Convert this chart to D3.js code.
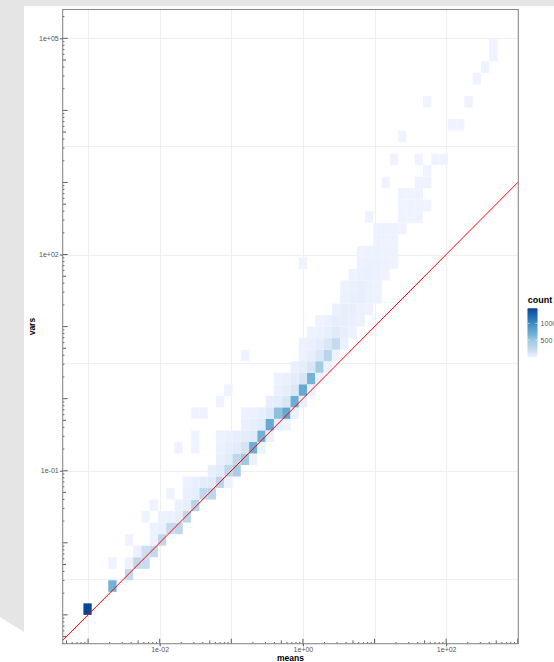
<!DOCTYPE html>
<html>
<head>
<meta charset="utf-8">
<script src="https://cdn.jsdelivr.net/npm/d3@7"></script>
<style>
html, body { margin: 0; padding: 0; background: #fff; overflow: hidden; }
svg { display: block; font-family: "Liberation Sans", Arial, sans-serif; }
</style>
</head>
<body>
<svg id="chart" width="554" height="662"></svg>
<script>
// bins of the 2d histogram, in log10 units
var xBinStart = -3.065, xBinWidth = 0.11566;
var yBinStart = -3.0, yBinWidth = 0.16;

var xBreaks = [1e-2, 1e0, 1e2];
var xTickLabels = ["1e-02", "1e+00", "1e+02"];
var yBreaks = [1e-1, 1e2, 1e5];
var yTickLabels = ["1e-01", "1e+02", "1e+05"];
var legendBreaks = [500, 1000];
var legendLabels = ["500", "1000"];
var blues = ["#eff3ff", "#c6dbef", "#9ecae1", "#6baed6", "#4292c6", "#2171b5", "#084594"];

// [x bin, y bin, count]
var cells = [
  [0,0,1450],
  [3,2,690],
  [5,3,250],
  [3,4,4],[5,4,6],[6,4,270],[7,4,230],
  [6,5,9],[7,5,200],[8,5,260],
  [5,6,3],[8,6,14],[9,6,280],
  [8,7,12],[9,7,30],[10,7,250],[11,7,290],
  [7,8,3],[9,8,10],[10,8,25],[11,8,40],[12,8,300],
  [8,9,4],[11,9,20],[12,9,45],[13,9,330],
  [10,10,5],[12,10,30],[13,10,50],[14,10,280],[15,10,300],
  [12,11,15],[13,11,35],[14,11,60],[15,11,90],[16,11,320],[17,11,10],
  [15,12,40],[16,12,70],[17,12,300],[18,12,430],
  [16,13,35],[17,13,80],[18,13,280],[19,13,480],[20,13,15],
  [11,14,3],[13,14,4],[16,14,20],[17,14,40],[18,14,70],[19,14,150],[20,14,720],[21,14,25],
  [13,15,5],[16,15,10],[17,15,25],[18,15,45],[19,15,60],[20,15,90],[21,15,700],[22,15,30],
  [19,16,30],[20,16,45],[21,16,80],[22,16,760],[23,16,40],[24,16,6],
  [13,17,3],[14,17,4],[19,17,12],[20,17,25],[21,17,50],[22,17,110],[23,17,560],[24,17,780],[25,17,20],
  [16,18,3],[22,18,40],[23,18,60],[24,18,130],[25,18,720],[26,18,35],
  [17,19,4],[23,19,30],[24,19,55],[25,19,120],[26,19,760],[27,19,30],
  [23,20,15],[24,20,30],[25,20,60],[26,20,140],[27,20,680],[28,20,25],
  [25,21,30],[26,21,55],[27,21,130],[28,21,460],[29,21,20],
  [19,22,4],[26,22,25],[27,22,50],[28,22,120],[29,22,330],[30,22,15],
  [26,23,15],[27,23,30],[28,23,60],[29,23,130],[30,23,250],[31,23,20],
  [27,24,12],[28,24,25],[29,24,45],[30,24,90],[31,24,50],[32,24,10],
  [28,25,8],[29,25,20],[30,25,40],[31,25,45],[32,25,30],[33,25,8],
  [30,26,25],[31,26,40],[32,26,45],[33,26,25],[34,26,6],
  [31,27,20],[32,27,35],[33,27,40],[34,27,22],[35,27,6],
  [31,28,10],[32,28,25],[33,28,35],[34,28,25],[35,28,8],
  [32,29,12],[33,29,25],[34,29,30],[35,29,20],[36,29,5],
  [26,30,2],[33,30,10],[34,30,22],[35,30,25],[36,30,12],[37,30,4],
  [33,31,5],[34,31,15],[35,31,20],[36,31,15],[37,31,6],
  [35,32,12],[36,32,12],[37,32,7],
  [35,33,6],[36,33,10],[37,33,8],[38,33,3],
  [34,34,2],[38,34,6],[39,34,5],[40,34,3],
  [38,35,5],[39,35,6],[40,35,3],[41,35,2],
  [38,36,4],[39,36,3],[40,36,2],
  [36,37,2],[40,37,3],[41,37,3],
  [41,38,2],
  [37,39,1],[40,39,2],[42,39,2],[43,39,1],
  [38,41,1],
  [44,42,2],[45,42,1],
  [41,44,1],[46,44,1],
  [47,46,1],
  [48,47,1],
  [49,48,1],
  [49,49,1]
];

var panel = {left: 62.7, right: 518.3, top: 9.5, bottom: 643.7};

var svg = d3.select("#chart");

// page behind the plot (grey margin with the tilted edge)
svg.append("rect").attr("width", 554).attr("height", 662).attr("fill", "#fff");
svg.append("polygon")
  .attr("points", "0,0 554,0 554,6 24,6 24,632 0,617")
  .attr("fill", "#e5e5e5");

// scales: bin extent plus 5% expansion, in log space
var nx = d3.max(cells, function(d) { return d[0]; }) + 1;
var ny = d3.max(cells, function(d) { return d[1]; }) + 1;
var xLo = xBinStart, xHi = xBinStart + nx * xBinWidth;
var yLo = yBinStart, yHi = yBinStart + ny * yBinWidth;
var xPad = 0.05 * (xHi - xLo), yPad = 0.05 * (yHi - yLo);

var x = d3.scaleLog()
  .domain([Math.pow(10, xLo - xPad), Math.pow(10, xHi + xPad)])
  .range([panel.left, panel.right]);
var y = d3.scaleLog()
  .domain([Math.pow(10, yLo - yPad), Math.pow(10, yHi + yPad)])
  .range([panel.bottom, panel.top]);

var cMin = d3.min(cells, function(d) { return d[2]; });
var cMax = d3.max(cells, function(d) { return d[2]; });
var color = d3.scaleLinear()
  .domain(blues.map(function(c, k) { return cMin + k * (cMax - cMin) / (blues.length - 1); }))
  .range(blues)
  .interpolate(d3.interpolateLab);

svg.append("clipPath").attr("id", "clip")
  .append("rect")
  .attr("x", panel.left).attr("y", panel.top)
  .attr("width", panel.right - panel.left).attr("height", panel.bottom - panel.top);

// grid: major at breaks, minor half way between
function gridValues(breaks, dom) {
  var lb = breaks.map(Math.log10), out = lb.slice();
  var step = lb[1] - lb[0];
  for (var k = -1; k < lb.length; k++) out.push(lb[0] + (k + 0.5) * step);
  var a = Math.log10(dom[0]), b = Math.log10(dom[1]);
  return out.filter(function(v) { return v >= Math.min(a, b) && v <= Math.max(a, b); })
    .map(function(v) { return Math.pow(10, v); });
}

var grid = svg.append("g").attr("stroke", "#efefef").attr("stroke-width", 1);
grid.selectAll(".gx").data(gridValues(xBreaks, x.domain())).enter()
  .append("line")
  .attr("x1", function(d) { return Math.round(x(d)) + 0.5; })
  .attr("x2", function(d) { return Math.round(x(d)) + 0.5; })
  .attr("y1", panel.top).attr("y2", panel.bottom);
grid.selectAll(".gy").data(gridValues(yBreaks, y.domain())).enter()
  .append("line")
  .attr("y1", function(d) { return Math.round(y(d)) + 0.5; })
  .attr("y2", function(d) { return Math.round(y(d)) + 0.5; })
  .attr("x1", panel.left).attr("x2", panel.right);

// tiles
svg.append("g").attr("clip-path", "url(#clip)")
  .selectAll("rect").data(cells).enter()
  .append("rect")
  .attr("x", function(d) { return x(Math.pow(10, xBinStart + d[0] * xBinWidth)); })
  .attr("width", function(d) {
    return x(Math.pow(10, xBinStart + (d[0] + 1) * xBinWidth)) - x(Math.pow(10, xBinStart + d[0] * xBinWidth));
  })
  .attr("y", function(d) { return y(Math.pow(10, yBinStart + (d[1] + 1) * yBinWidth)); })
  .attr("height", function(d) {
    return y(Math.pow(10, yBinStart + d[1] * yBinWidth)) - y(Math.pow(10, yBinStart + (d[1] + 1) * yBinWidth));
  })
  .attr("fill", function(d) { return color(d[2]); });

// y = x reference line
svg.append("line").attr("clip-path", "url(#clip)")
  .attr("x1", x(x.domain()[0])).attr("y1", y(x.domain()[0]))
  .attr("x2", x(x.domain()[1])).attr("y2", y(x.domain()[1]))
  .attr("stroke", "red").attr("stroke-width", 1);

// log ticks on bottom and left
function logTicks(dom) {
  var a = Math.floor(Math.log10(dom[0])), b = Math.ceil(Math.log10(dom[1]));
  var out = [];
  for (var e = a; e <= b; e++) {
    for (var m = 1; m <= 9; m++) {
      var v = m * Math.pow(10, e);
      if (v >= dom[0] && v <= dom[1]) out.push({v: v, len: m === 1 ? 5 : (m === 5 ? 3.3 : 1.7)});
    }
  }
  return out;
}
var lt = svg.append("g").attr("stroke", "#333").attr("stroke-width", 0.8);
lt.selectAll(".lx").data(logTicks(x.domain())).enter().append("line")
  .attr("x1", function(d) { return x(d.v); }).attr("x2", function(d) { return x(d.v); })
  .attr("y1", panel.bottom).attr("y2", function(d) { return panel.bottom - d.len; });
lt.selectAll(".ly").data(logTicks(y.domain())).enter().append("line")
  .attr("y1", function(d) { return y(d.v); }).attr("y2", function(d) { return y(d.v); })
  .attr("x1", panel.left).attr("x2", function(d) { return panel.left + d.len; });

// panel border
svg.append("rect")
  .attr("x", panel.left).attr("y", panel.top)
  .attr("width", panel.right - panel.left).attr("height", panel.bottom - panel.top)
  .attr("fill", "none").attr("stroke", "#8a8a8a").attr("stroke-width", 1.1);

// axes
var xAxis = svg.append("g").attr("transform", "translate(0," + panel.bottom + ")")
  .call(d3.axisBottom(x).tickValues(xBreaks)
    .tickFormat(function(d, i) { return xTickLabels[i]; })
    .tickSize(2.6).tickPadding(0.8));
var yAxis = svg.append("g").attr("transform", "translate(" + panel.left + ",0)")
  .call(d3.axisLeft(y).tickValues(yBreaks)
    .tickFormat(function(d, i) { return yTickLabels[i]; })
    .tickSize(2.8).tickPadding(1.2));
[xAxis, yAxis].forEach(function(g) {
  g.select(".domain").remove();
  g.selectAll(".tick line").attr("stroke", "#555");
  g.selectAll(".tick text").attr("fill", "#555").style("font-size", "7px")
    .style("font-family", "'Liberation Sans', Arial, sans-serif");
});

svg.append("text")
  .attr("x", (panel.left + panel.right) / 2).attr("y", 660.8)
  .attr("text-anchor", "middle")
  .style("font-size", "8.5px").style("font-weight", "bold")
  .text("means");
svg.append("text")
  .attr("transform", "translate(35.2," + ((panel.top + panel.bottom) / 2) + ") rotate(-90)")
  .attr("text-anchor", "middle")
  .style("font-size", "8.5px").style("font-weight", "bold")
  .text("vars");

// legend colourbar (runs off the right edge, as in the original)
var bar = {x: 527.7, w: 9.6, top: 308.3, bottom: 356.7};
var legendY = d3.scaleLinear().domain([cMin, cMax]).range([bar.bottom, bar.top]);
var legend = svg.append("g");
legend.append("text").attr("x", bar.x).attr("y", 303.4)
  .style("font-size", "9px").style("font-weight", "bold").text("count");
var steps = d3.range(0, 100);
legend.selectAll(".bar").data(steps).enter().append("rect")
  .attr("x", bar.x).attr("width", bar.w)
  .attr("y", function(k) { return legendY(cMin + (k + 1) * (cMax - cMin) / steps.length); })
  .attr("height", function(k) {
    return legendY(cMin + k * (cMax - cMin) / steps.length) - legendY(cMin + (k + 1) * (cMax - cMin) / steps.length) + 0.6;
  })
  .attr("fill", function(k) { return color(cMin + (k + 0.5) * (cMax - cMin) / steps.length); });
legend.selectAll(".tk").data(legendBreaks).enter().append("path")
  .attr("d", function(d) {
    var yy = legendY(d);
    return "M" + bar.x + "," + yy + "h1.9M" + (bar.x + bar.w - 1.9) + "," + yy + "h1.9";
  })
  .attr("stroke", "#fff").attr("stroke-width", 0.6);
legend.selectAll(".lb").data(legendBreaks).enter().append("text")
  .attr("x", bar.x + bar.w + 3.3)
  .attr("y", function(d) { return legendY(d) + 2.5; })
  .attr("fill", "#555").style("font-size", "7px")
  .text(function(d, i) { return legendLabels[i]; });
</script>
</body>
</html>
